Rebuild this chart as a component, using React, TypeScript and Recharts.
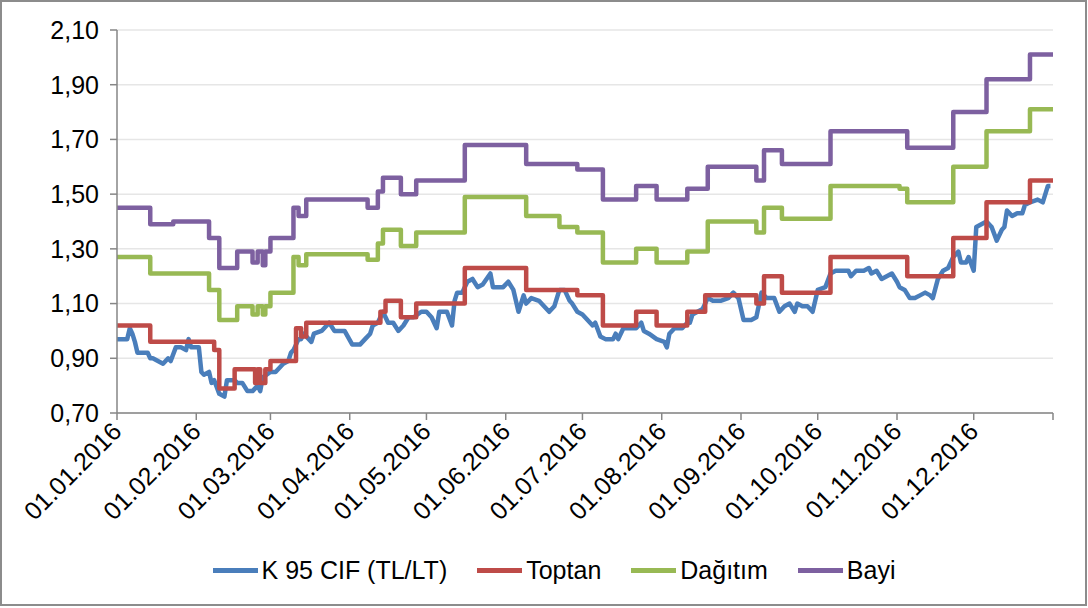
import React from 'react';
import { LineChart, Line, XAxis, YAxis, CartesianGrid } from 'recharts';

// day index (0 = 01.01.2016) and value pairs
const cifDays = [0, 4, 5, 6, 7, 8, 10, 12, 13, 14, 16, 18, 20, 21, 23, 25, 27, 28, 29, 32, 33, 34, 36, 37, 38, 40, 42, 43, 46, 47, 49, 51, 53, 55, 56, 57, 60, 62, 63, 65, 67, 68, 69, 71, 72, 73, 74, 76, 77, 80, 83, 85, 86, 89, 92, 95, 97, 99, 100, 102, 104, 106, 108, 110, 112, 114, 116, 119, 121, 123, 125, 126, 129, 131, 132, 133, 135, 137, 139, 141, 143, 146, 147, 151, 153, 155, 157, 159, 160, 162, 165, 167, 169, 171, 173, 175, 177, 178, 180, 182, 184, 186, 187, 189, 191, 194, 195, 196, 198, 201, 203, 205, 206, 208, 211, 214, 215, 216, 218, 221, 223, 224, 225, 227, 229, 231, 233, 236, 239, 241, 243, 245, 248, 250, 252, 254, 257, 259, 261, 263, 265, 266, 268, 270, 272, 274, 277, 279, 281, 284, 286, 287, 289, 292, 294, 295, 297, 299, 301, 303, 305, 306, 308, 310, 312, 314, 316, 318, 319, 321, 323, 325, 327, 329, 330, 332, 333, 335, 336, 338, 340, 342, 344, 346, 347, 348, 350, 352, 354, 355, 357, 360, 362, 364, 365];
const cifValues = [0.97, 0.97, 1.01, 0.99, 0.96, 0.92, 0.92, 0.92, 0.90, 0.90, 0.89, 0.88, 0.90, 0.89, 0.94, 0.94, 0.93, 0.97, 0.94, 0.94, 0.85, 0.84, 0.85, 0.81, 0.82, 0.77, 0.76, 0.82, 0.82, 0.81, 0.81, 0.78, 0.78, 0.80, 0.78, 0.83, 0.85, 0.85, 0.86, 0.88, 0.89, 0.92, 0.93, 0.97, 0.97, 0.99, 0.98, 0.96, 0.99, 1.00, 1.03, 1.00, 1.00, 1.00, 0.95, 0.95, 0.97, 0.99, 1.02, 1.03, 1.07, 1.03, 1.03, 1.00, 1.02, 1.05, 1.05, 1.07, 1.07, 1.05, 1.01, 1.07, 1.07, 1.02, 1.11, 1.14, 1.14, 1.18, 1.19, 1.16, 1.17, 1.21, 1.16, 1.16, 1.18, 1.15, 1.07, 1.13, 1.10, 1.12, 1.11, 1.09, 1.07, 1.09, 1.15, 1.15, 1.11, 1.10, 1.07, 1.06, 1.04, 1.02, 1.03, 0.98, 0.97, 0.97, 0.99, 0.97, 1.01, 1.01, 1.01, 1.03, 1.00, 0.99, 0.97, 0.96, 0.94, 0.99, 1.01, 1.01, 1.03, 1.03, 1.06, 1.07, 1.08, 1.12, 1.11, 1.11, 1.12, 1.14, 1.12, 1.04, 1.04, 1.05, 1.14, 1.12, 1.12, 1.07, 1.09, 1.10, 1.07, 1.10, 1.09, 1.09, 1.07, 1.15, 1.16, 1.21, 1.22, 1.22, 1.22, 1.20, 1.22, 1.22, 1.23, 1.21, 1.22, 1.19, 1.20, 1.21, 1.18, 1.16, 1.15, 1.12, 1.12, 1.13, 1.14, 1.13, 1.12, 1.19, 1.22, 1.23, 1.27, 1.29, 1.25, 1.25, 1.27, 1.22, 1.38, 1.39, 1.40, 1.38, 1.33, 1.37, 1.38, 1.44, 1.42, 1.43, 1.43, 1.46, 1.47, 1.48, 1.47, 1.53, 1.53];

// step series: day the price changed and the new price
const toptanDays = [0, 13, 38, 40, 46, 54, 55, 56, 58, 60, 70, 72, 74, 103, 105, 111, 117, 136, 160, 180, 190, 203, 211, 223, 230, 250, 253, 260, 279, 309, 327, 340, 357, 366];
const toptanValues = [1.02, 0.96, 0.93, 0.79, 0.86, 0.81, 0.86, 0.81, 0.86, 0.89, 1.01, 0.98, 1.03, 1.07, 1.11, 1.05, 1.10, 1.23, 1.15, 1.13, 1.02, 1.07, 1.02, 1.07, 1.13, 1.10, 1.20, 1.14, 1.27, 1.20, 1.34, 1.47, 1.55, 1.55];

const dagitimDays = [0, 13, 36, 40, 47, 53, 55, 57, 58, 60, 69, 71, 74, 98, 102, 104, 111, 117, 136, 160, 173, 180, 190, 203, 211, 223, 231, 250, 253, 260, 279, 306, 309, 327, 340, 357, 366];
const dagitimValues = [1.27, 1.21, 1.15, 1.04, 1.09, 1.06, 1.09, 1.06, 1.09, 1.14, 1.27, 1.24, 1.28, 1.26, 1.32, 1.37, 1.31, 1.36, 1.49, 1.42, 1.38, 1.36, 1.25, 1.30, 1.25, 1.29, 1.40, 1.36, 1.45, 1.41, 1.53, 1.52, 1.47, 1.60, 1.73, 1.81, 1.81];

const bayiDays = [0, 13, 22, 36, 40, 47, 53, 55, 57, 58, 60, 69, 71, 74, 98, 102, 104, 111, 117, 136, 160, 180, 190, 203, 211, 223, 231, 250, 253, 260, 279, 309, 327, 340, 357, 366];
const bayiValues = [1.45, 1.39, 1.40, 1.34, 1.23, 1.29, 1.25, 1.29, 1.24, 1.29, 1.34, 1.45, 1.42, 1.48, 1.45, 1.51, 1.56, 1.50, 1.55, 1.68, 1.61, 1.59, 1.48, 1.53, 1.48, 1.52, 1.60, 1.55, 1.66, 1.61, 1.73, 1.67, 1.80, 1.92, 2.01, 2.01];

const monthTicks = [0, 31, 60, 91, 121, 152, 182, 213, 244, 274, 305, 335, 366];
const monthLabels = ['01.01.2016', '01.02.2016', '01.03.2016', '01.04.2016', '01.05.2016', '01.06.2016', '01.07.2016', '01.08.2016', '01.09.2016', '01.10.2016', '01.11.2016', '01.12.2016', ''];
const yTicks = [0.7, 0.9, 1.1, 1.3, 1.5, 1.7, 1.9, 2.1];

const seriesNames = ['K 95 CIF (TL/LT)', 'Toptan', 'Dağıtım', 'Bayi'];
const seriesColors = ['#4a7ebb', '#be4b48', '#98b954', '#7d60a0'];

const toPoints = (days: number[], values: number[]) => days.map((d, i) => ({ day: d, value: values[i] }));

const FONT = '"Liberation Sans", Arial, sans-serif';

const DateTick = (props: any) => {
  const { x, y, payload } = props;
  const idx = monthTicks.indexOf(payload.value);
  return (
    <g transform={`translate(${x + 6},${y + 11})`}>
      <text x={0} y={0} textAnchor="end" transform="rotate(-45)" fontSize={25} fontFamily={FONT} fill="#000">
        {monthLabels[idx]}
      </text>
    </g>
  );
};

const App = () => {
  const series = [
    toPoints(cifDays, cifValues),
    toPoints(toptanDays, toptanValues),
    toPoints(dagitimDays, dagitimValues),
    toPoints(bayiDays, bayiValues),
  ];
  return (
    <div style={{ position: 'absolute', left: 0, top: 0, width: 1088, height: 608, background: '#fff', fontFamily: FONT }}>
      <LineChart width={1088} height={608} margin={{ top: 30, right: 35, left: 0, bottom: 0 }}>
        <CartesianGrid horizontal vertical={false} stroke="#e6e6e6" strokeWidth={1.5} />
        <XAxis
          type="number"
          dataKey="day"
          domain={[0, 366]}
          ticks={monthTicks}
          interval={0}
          height={195}
          stroke="#868686"
          strokeWidth={1.5}
          tickSize={7}
          tick={<DateTick />}
          allowDataOverflow
        />
        <YAxis
          type="number"
          domain={[0.7, 2.1]}
          ticks={yTicks}
          interval={0}
          width={117}
          stroke="#868686"
          strokeWidth={1.5}
          tickSize={7}
          tickMargin={11}
          tick={{ fontSize: 25, fill: '#000', fontFamily: FONT }}
          tickFormatter={(v: number) => v.toFixed(2).replace('.', ',')}
          allowDataOverflow
        />
        {series.map((pts, i) => (
          <Line
            key={seriesNames[i]}
            data={pts}
            dataKey="value"
            name={seriesNames[i]}
            type={i === 0 ? 'linear' : 'stepAfter'}
            stroke={seriesColors[i]}
            strokeWidth={4.5}
            strokeLinejoin="round"
            dot={false}
            isAnimationActive={false}
          />
        ))}
      </LineChart>
      <div style={{ position: 'absolute', top: 556, left: 10, width: 1088, display: 'flex', justifyContent: 'center', gap: 30, fontSize: 25, color: '#000' }}>
        {seriesNames.map((n, i) => (
          <div key={n} style={{ display: 'flex', alignItems: 'center' }}>
            <div style={{ width: 45, height: 4.5, background: seriesColors[i], marginRight: 4 }} />
            <span>{n}</span>
          </div>
        ))}
      </div>
      <div style={{ position: 'absolute', left: 0, top: 0, width: 1087, height: 606, boxSizing: 'border-box', border: '2px solid #8c8c8c', pointerEvents: 'none' }} />
    </div>
  );
};

export default App;
